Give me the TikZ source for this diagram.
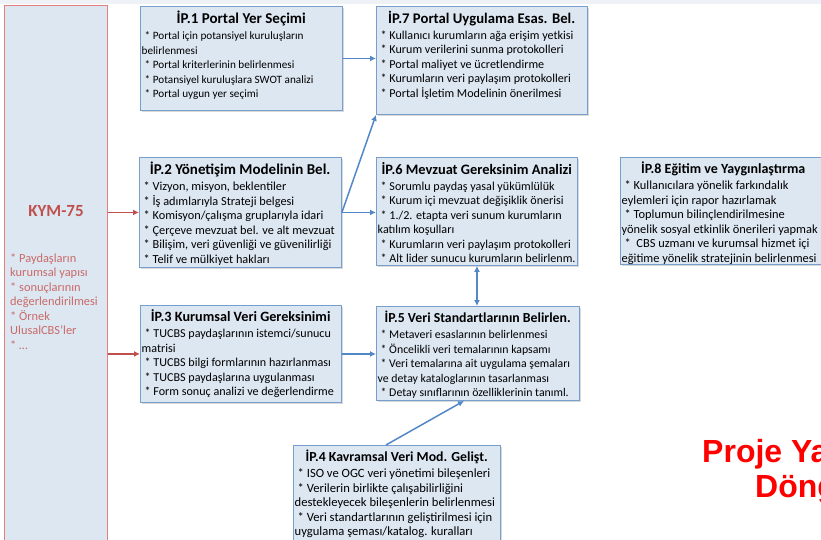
\documentclass[tikz,border=0pt]{standalone}
\usepackage{fontspec}
\setmainfont{Carlito}
\newfontfamily\headfont{Liberation Sans}
\usetikzlibrary{positioning}
\usetikzlibrary{arrows.meta}
\usetikzlibrary{shadows}

\definecolor{boxfill}{RGB}{221,231,242}
\definecolor{boxline}{RGB}{120,158,205}
\definecolor{linkblue}{RGB}{82,136,200}
\definecolor{kymred}{RGB}{192,80,77}
\definecolor{kymline}{RGB}{226,128,128}
\definecolor{projred}{RGB}{255,0,0}
\definecolor{topstrip}{RGB}{238,242,247}

\newcommand{\iptitle}[3][14.4]{\makebox[#2][c]{\fontsize{#1}{17}\selectfont\bfseries #3}}

\begin{document}
\begin{tikzpicture}[x=1pt, y=-1pt,
    ipbox/.style={draw=boxline, fill=boxfill, line width=0.9pt, anchor=north west, inner sep=0pt,
                  drop shadow={shadow xshift=1.2pt, shadow yshift=-1.5pt, opacity=0.3}},
    iptext/.style={align=left, inner sep=0pt, font=\fontsize{#1}{14.5}\selectfont},
    kymbox/.style={draw=kymline, fill=boxfill, line width=0.9pt, anchor=north west,
                   minimum width=103pt, minimum height=543pt, inner sep=0pt},
    kymtitle/.style={font=\fontsize{17}{20}\selectfont\bfseries, text=kymred},
    kymlist/.style={font=\fontsize{12.4}{14.5}\selectfont, text=kymred!85, align=left, inner sep=2pt, anchor=north west},
    projtext/.style={font=\headfont\bfseries\fontsize{32}{36}\selectfont, text=projred, inner sep=0pt, anchor=base west},
    bluelink/.style={draw=linkblue, line width=1.5pt, -{Latex[length=6pt,width=6pt]}},
    redlink/.style={draw=kymred, line width=1.5pt, -{Latex[length=6pt,width=6pt]}},
  ]
  \clip (0,0) rectangle (821,539);
  \fill[topstrip] (0,0) rectangle (821,4);

  %KYM
  \node[kymbox] (kym) at (4,5) {};
  \node[kymtitle] (kymtitle) at (56,211) {KYM-75};
  \node[kymlist] (kymlist) at (8,251) {* Paydaşların\\ kurumsal yapısı\\ * sonuçlarının\\ değerlendirilmesi\\ * Örnek\\ UlusalCBS’ler\\ * …};

  %Boxes
  \node[ipbox, minimum width=202pt, minimum height=104pt] (ip1) at (140,6) {};
  \node[ipbox, minimum width=211pt, minimum height=108pt] (ip7) at (376,6) {};
  \node[ipbox, minimum width=202pt, minimum height=110pt] (ip2) at (139,157) {};
  \node[ipbox, minimum width=201pt, minimum height=108pt] (ip6) at (376,157) {};
  \node[ipbox, minimum width=206pt, minimum height=107pt] (ip8) at (620,157) {};
  \node[ipbox, minimum width=201pt, minimum height=97pt] (ip3) at (140,305) {};
  \node[ipbox, minimum width=203pt, minimum height=94pt] (ip5) at (376,306) {};
  \node[ipbox, minimum width=207pt, minimum height=103pt] (ip4) at (293,445) {};

  %Texts
  \node[iptext=11.2, below right=4.8pt and 4.5pt of ip1.north west] (ip1text)
    {\iptitle[15]{193pt}{İP.1 Portal Yer Seçimi}\\[1.5pt]
     * Portal için potansiyel kuruluşların\\ \hspace{-3pt}belirlenmesi\\ * Portal kriterlerinin belirlenmesi\\
     * Potansiyel kuruluşlara SWOT analizi\\ * Portal uygun yer seçimi};
  \node[iptext=12.1, below right=4.8pt and 4.5pt of ip7.north west] (ip7text)
    {\iptitle[14.7]{202pt}{İP.7 Portal Uygulama Esas. Bel.}\\[1.5pt]
     * Kullanıcı kurumların ağa erişim yetkisi\\ * Kurum verilerini sunma protokolleri\\
     * Portal maliyet ve ücretlendirme\\ * Kurumların veri paylaşım protokolleri\\
     * Portal İşletim Modelinin önerilmesi};
  \node[iptext=12.3, below right=4.8pt and 4.5pt of ip2.north west] (ip2text)
    {\iptitle[15]{193pt}{İP.2 Yönetişim Modelinin Bel.}\\[1.5pt]
     * Vizyon, misyon, beklentiler\\ * İş adımlarıyla Strateji belgesi\\
     * Komisyon/çalışma gruplarıyla idari\\ * Çerçeve mevzuat bel. ve alt mevzuat\\
     * Bilişim, veri güvenliği ve güvenilirliği\\ * Telif ve mülkiyet hakları};
  \node[iptext=12.1, below right=4.8pt and 4.5pt of ip6.north west] (ip6text)
    {\iptitle[14.4]{192pt}{İP.6 Mevzuat Gereksinim Analizi}\\[1.5pt]
     * Sorumlu paydaş yasal yükümlülük\\ * Kurum içi mevzuat değişiklik önerisi\\
     * 1./2. etapta veri sunum kurumların\\ \hspace{-3pt}katılım koşulları\\
     * Kurumların veri paylaşım protokolleri\\ * Alt lider sunucu kurumların belirlenm.};
  \node[iptext=12.4, below right=4.8pt and 4.5pt of ip8.north west] (ip8text)
    {\iptitle[14]{197pt}{İP.8 Eğitim ve Yaygınlaştırma}\\[1.5pt]
     * Kullanıcılara yönelik farkındalık\\ \hspace{-3pt}eylemleri için rapor hazırlamak\\
     * Toplumun bilinçlendirilmesine\\ \hspace{-3pt}yönelik sosyal etkinlik önerileri yapmak\\
     *\ \ CBS uzmanı ve kurumsal hizmet içi\\ \hspace{-3pt}eğitime yönelik stratejinin belirlenmesi};
  \node[iptext=12.1, below right=4.8pt and 4.5pt of ip3.north west] (ip3text)
    {\iptitle[14.2]{192pt}{İP.3 Kurumsal Veri Gereksinimi}\\[1.5pt]
     * TUCBS paydaşlarının istemci/sunucu\\ \hspace{-3pt}matrisi\\ * TUCBS bilgi formlarının hazırlanması\\
     * TUCBS paydaşlarına uygulanması\\ * Form sonuç analizi ve değerlendirme};
  \node[iptext=11.8, below right=4.8pt and 4.5pt of ip5.north west] (ip5text)
    {\iptitle[13.8]{194pt}{İP.5 Veri Standartlarının Belirlen.}\\[1.5pt]
     * Metaveri esaslarının belirlenmesi\\ * Öncelikli veri temalarının kapsamı\\
     * Veri temalarına ait uygulama şemaları\\ \hspace{-3pt}ve detay kataloglarının tasarlanması\\
     * Detay sınıflarının özelliklerinin tanıml.};
  \node[iptext=12.6, below right=4.8pt and 4.5pt of ip4.north west] (ip4text)
    {\iptitle[13.8]{198pt}{İP.4 Kavramsal Veri Mod. Gelişt.}\\[1.5pt]
     * ISO ve OGC veri yönetimi bileşenleri\\ * Verilerin birlikte çalışabilirliğini\\
     \hspace{-3pt}destekleyecek bileşenlerin belirlenmesi\\ * Veri standartlarının geliştirilmesi için\\
     \hspace{-3pt}uygulama şeması/katalog. kuralları};

  \node[projtext] (proj1) at (702,462) {Proje Ya};
  \node[projtext] (proj2) at (755,497) {Döng};

  %Lines
  \draw[redlink] (kym.east |- ip2.west) -- (ip2.west);
  \draw[redlink] (kym.east |- ip3.west) -- (ip3.west);
  \draw[bluelink] (ip1.east) -- (ip1.east -| ip7.west);
  \draw[bluelink] (ip2.east) -- (ip7.south west);
  \draw[bluelink] (ip2.east) -- (ip2.east -| ip6.west);
  \draw[bluelink] (ip3.east) -- (ip3.east -| ip5.west);
  \draw[bluelink, {Latex[length=6pt,width=6pt]}-{Latex[length=6pt,width=6pt]}] (ip6.south) -- (ip6.south |- ip5.north);
  \draw[bluelink] ([xshift=-11pt]ip4.north) -- ([xshift=-14pt]ip5.south);
\end{tikzpicture}
\end{document}
